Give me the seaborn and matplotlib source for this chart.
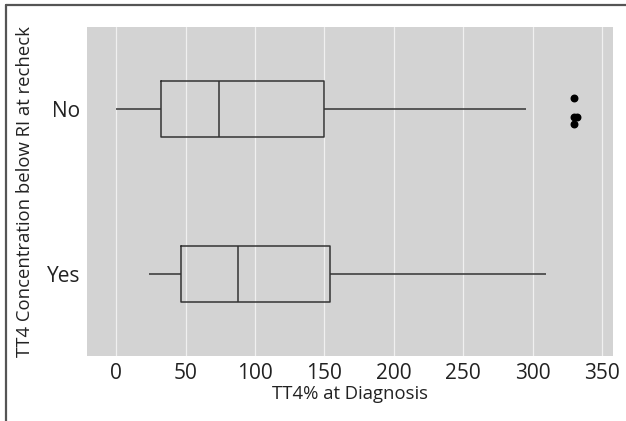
import matplotlib
matplotlib.use("Agg")
import matplotlib.pyplot as plt
import seaborn as sns
import pandas as pd
from matplotlib.lines import Line2D

# five-number summaries (whisker low, Q1, median, Q3, whisker high)
groups = ["No", "Yes"]
summary_no = [0, 32, 74, 150, 295]
summary_yes = [24, 47, 88, 154, 310]

# outliers for "No" and their vertical jitter (in category units)
outlier_vals = [330, 330, 332, 330]
outlier_jitter = [-0.07, 0.05, 0.05, 0.09]

x_ticks = [0, 50, 100, 150, 200, 250, 300, 350]

df = pd.DataFrame({
    "tt4": summary_no + summary_yes,
    "group": ["No"] * len(summary_no) + ["Yes"] * len(summary_yes),
})
out = pd.DataFrame({
    "tt4": outlier_vals,
    "pos": [groups.index("No") + j for j in outlier_jitter],
})

sns.set_theme(style="darkgrid")
plt.rcParams["font.family"] = ["Open Sans", "DejaVu Sans"]

fig = plt.figure(figsize=(6.26, 4.21), dpi=100)
ax = fig.add_axes([87 / 626, 1 - 356 / 421, (613 - 87) / 626, (356 - 27) / 421])
ax.set_facecolor("#d3d3d3")

sns.boxplot(data=df, x="tt4", y="group", order=groups, orient="h",
            fill=False, color="#333333", linewidth=1.1, width=0.34,
            whis=1.5, showfliers=False, showcaps=False, ax=ax)
ax.scatter(out["tt4"], out["pos"], s=22, color="black", zorder=3)

ax.set_xlim(-21, 358)
ax.set_ylim(1.5, -0.5)
ax.set_xticks(x_ticks)
ax.grid(axis="x", color="#f0f0f0", linewidth=0.9)
ax.grid(axis="y", visible=False)
for s in ax.spines.values():
    s.set_visible(False)
ax.tick_params(axis="both", length=3, color="#999999", labelsize=15,
               labelcolor="#222222", pad=2)
ax.set_xlabel("TT4% at Diagnosis", fontsize=13.3, color="#222222", labelpad=1)
ax.set_ylabel("TT4 Concentration below RI at recheck", fontsize=13.3,
              color="#222222", labelpad=9)

# frame lines on left and top of the figure
fig.add_artist(Line2D([5.5 / 626, 5.5 / 626], [0, 1 - 5 / 421],
                      transform=fig.transFigure, color="#555555", linewidth=1.6))
fig.add_artist(Line2D([5.5 / 626, 1], [1 - 5 / 421, 1 - 5 / 421],
                      transform=fig.transFigure, color="#555555", linewidth=1.6))

fig.savefig("out.png", dpi=100, facecolor="white")
